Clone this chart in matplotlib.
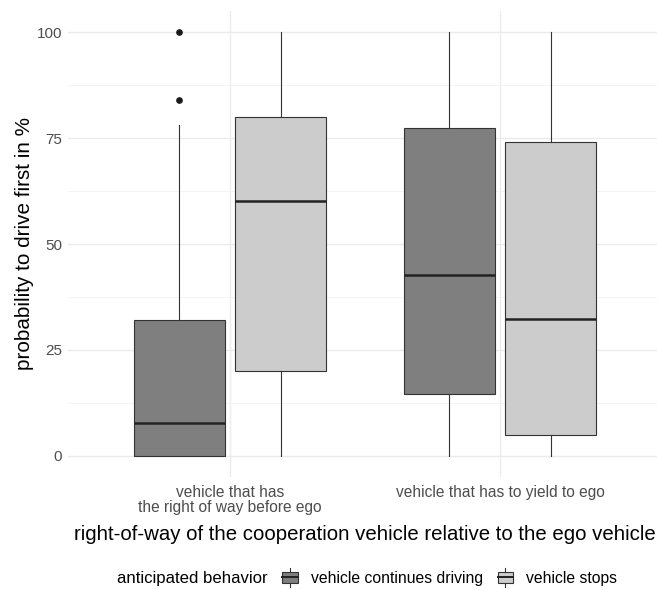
import matplotlib
matplotlib.use("Agg")
import matplotlib.pyplot as plt
from matplotlib.legend_handler import HandlerBase
from matplotlib.patches import Rectangle, Patch
from matplotlib.lines import Line2D

plt.rcParams['font.family'] = ['Liberation Sans', 'DejaVu Sans']

categories = ["vehicle that has\nthe right of way before ego", "vehicle that has to yield to ego"]
groups = ["vehicle continues driving", "vehicle stops"]
# per category, per group
q1 = [[0.0, 20.0], [14.7, 5.0]]
med = [[7.8, 60.2], [42.6, 32.2]]
q3 = [[32.1, 80.0], [77.4, 74.1]]
whislo = [[0.0, 0.0], [0.0, 0.0]]
whishi = [[78.0, 100.0], [100.0, 100.0]]
fliers = [[[84.0, 100.0], []], [[], []]]
yticks = [0, 25, 50, 75, 100]

fills = ["#7F7F7F", "#CCCCCC"]
edge = "#333333"

W, H = 657, 590
fig = plt.figure(figsize=(W / 100, H / 100), dpi=100)
left_px, top_px, bot_px = 68, 11, 477
ax = fig.add_axes([left_px / W, 1 - bot_px / H, (W - left_px) / W, (bot_px - top_px) / H])

dodge = 0.75
bw = dodge / 2 * 0.9
for ci in range(len(categories)):
    for gi in range(len(groups)):
        pos = ci + 1 + (gi - 0.5) * dodge / 2
        st = [dict(med=med[ci][gi], q1=q1[ci][gi], q3=q3[ci][gi],
                   whislo=whislo[ci][gi], whishi=whishi[ci][gi],
                   fliers=fliers[ci][gi])]
        ax.bxp(st, positions=[pos], widths=bw, patch_artist=True, showcaps=False,
               boxprops=dict(facecolor=fills[gi], edgecolor=edge, linewidth=0.8),
               medianprops=dict(color="#222222", linewidth=1.8),
               whiskerprops=dict(color=edge, linewidth=0.8),
               flierprops=dict(marker='o', markersize=3.8, markerfacecolor="#1a1a1a",
                               markeredgecolor="#1a1a1a"),
               zorder=3)

ax.set_xlim(0.4, 0.4 + (W - left_px) / 270)
ax.set_ylim(-5, 105)
ax.set_xticks([1, 2])
ax.set_xticklabels(categories, fontsize=11.2, color="#4D4D4D", linespacing=1.0)
ax.set_yticks(yticks)
ax.set_yticklabels([str(v) for v in yticks], fontsize=11, color="#4D4D4D")
ax.set_yticks([12.5, 37.5, 62.5, 87.5], minor=True)
ax.grid(True, which='major', color="#EBEBEB", linewidth=1.0, zorder=0)
ax.grid(True, which='minor', axis='y', color="#F2F2F2", linewidth=0.6, zorder=0)
ax.tick_params(which='both', length=0)
ax.tick_params(axis='x', pad=6)
ax.tick_params(axis='y', pad=4.3)
for s in ax.spines.values():
    s.set_visible(False)
ax.set_axisbelow(True)

fig.text(25 / W, 1 - 244 / H, "probability to drive first in %", fontsize=14.9,
         rotation=90, ha='center', va='center')
fig.text(365 / W, 1 - 534 / H, "right-of-way of the cooperation vehicle relative to the ego vehicle",
         fontsize=14.7, ha='center', va='center')


class BoxHandler(HandlerBase):
    def __init__(self, fc):
        super().__init__()
        self.fc = fc

    def create_artists(self, legend, orig_handle, xdescent, ydescent, width, height, fontsize, trans):
        cx = -xdescent + width / 2
        h = height * 1.35
        y0 = -ydescent + height / 2 - h / 2
        wl = Line2D([cx, cx], [y0, y0 + h], color=edge, lw=0.8, transform=trans)
        r = Rectangle((-xdescent + width * 0.12, y0 + h * 0.22), width * 0.76, h * 0.56,
                      facecolor=self.fc, edgecolor=edge, lw=0.8, transform=trans)
        ml = Line2D([-xdescent + width * 0.12, -xdescent + width * 0.88], [y0 + h / 2, y0 + h / 2],
                    color="#222222", lw=1.4, transform=trans)
        return [wl, r, ml]


handles = [Patch(label=g) for g in groups]
leg = fig.legend(handles, groups, loc='center left', bbox_to_anchor=(280 / W, 1 - 578 / H),
                 ncol=2, frameon=False, fontsize=11.3, handlelength=1.3, handleheight=1.0,
                 handletextpad=0.65, columnspacing=0.8, borderpad=0, borderaxespad=0,
                 handler_map={handles[0]: BoxHandler(fills[0]), handles[1]: BoxHandler(fills[1])})
fig.text(268 / W, 1 - 578 / H, "anticipated behavior", fontsize=12.1, ha='right', va='center')

fig.savefig("out.png", dpi=100)
